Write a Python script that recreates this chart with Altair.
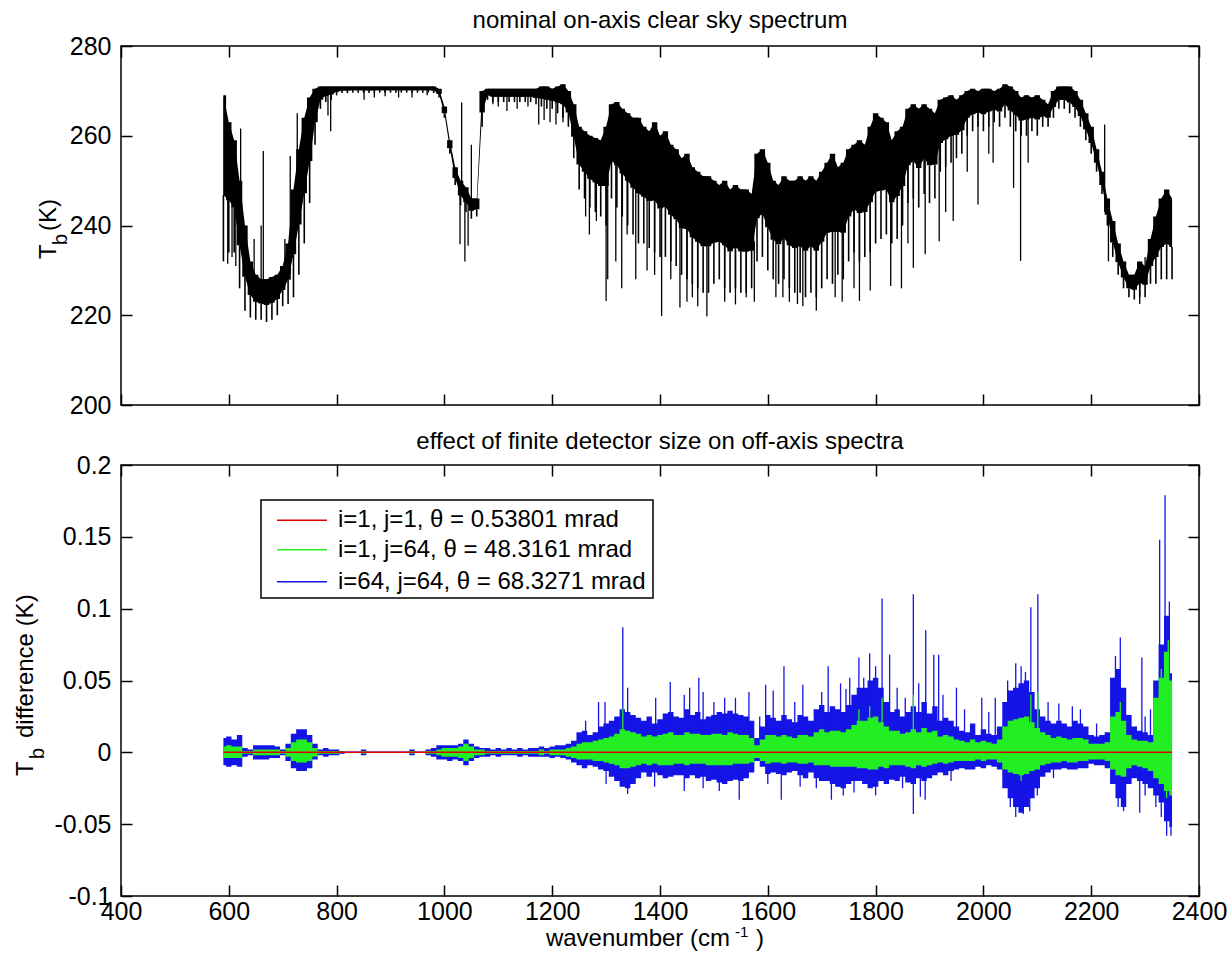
import altair as alt
import pandas as pd

FONT = "Liberation Sans"
W = 1078
H_TOP = 359
H_BOT = 431
TICK = 11

# ---------------- data ----------------
WN0, WN1, DWN = 590, 2350, 10          # sampling grid of the envelopes (cm^-1)

# top panel: upper / lower envelope of the brightness temperature (K)
top_hi = [
    269, 263, 259, 250, 240, 232, 229, 228, 228, 228.5,          # 590-680
    229, 231, 236, 248, 257, 264, 268.5, 270.5, 271, 271,        # 690-780
    271, 271, 271, 271, 271, 271, 271, 271, 271, 271,            # 790-880
    271, 271, 271, 271, 271, 271, 271, 271, 271, 271,            # 890-980
    270.5, 266.5, 259, 253, 250, 248.5, 246, 246, 270, 270.5,    # 990-1080
    270.5, 270.5, 270.5, 270.5, 270.5, 270.5, 270.5, 270.5, 270.5, 271,  # 1090-1180
    271, 270.5, 271, 271.5, 270, 267, 262, 261, 260, 259.5,      # 1190-1280
    259, 262, 267, 267.5, 266, 265, 264, 264, 262, 261,          # 1290-1380
    263, 260, 261, 258, 257, 255, 256, 253, 252, 251,            # 1390-1480
    251, 250, 249, 250, 248, 249, 248, 248, 247, 256,            # 1490-1580
    257, 254, 250, 249, 251, 250, 250, 251, 250, 251,            # 1590-1680
    250, 252, 254, 256, 253, 254, 257, 258, 259, 258,            # 1690-1780
    262, 265, 264, 263, 259, 261, 262, 266, 267, 266,            # 1790-1880
    267, 266, 265, 268, 268.5, 269, 268, 269, 270, 270.5,        # 1890-1980
    270, 270.5, 270.5, 270, 270.5, 271.5, 271, 270, 268.5, 269,  # 1990-2080
    268.5, 269, 268, 267, 270, 271, 271, 271, 270, 268,          # 2090-2180
    265, 262, 257, 252, 246, 241, 236, 232, 229, 229,            # 2190-2280
    232, 231, 237, 242, 246, 248, 246,                           # 2290-2350
]
top_lo = [
    232, 234, 234, 226, 221, 219.5, 219, 219, 218.5, 219,
    220, 222, 222.5, 224, 229, 236, 245, 258, 266, 267.5,
    268, 269, 269.5, 269.5, 269.6, 269.6, 269.6, 269.5, 269.6, 269.6,
    269.6, 269.6, 269.6, 269.6, 269.6, 269.6, 269.6, 269.6, 269.6, 269.5,
    268.5, 264, 256, 249, 244.5, 243, 241.5, 242, 262, 268,
    267.5, 267.5, 267.5, 267.5, 267.5, 267.5, 267.5, 267.5, 267, 266.5,
    266, 266, 265, 264, 262, 255, 248, 246, 244, 243,
    242, 240, 246, 244, 242, 240, 238, 236, 236, 235,
    234, 233, 233, 232, 231, 229, 228, 227, 226, 225,
    225, 227, 228, 226, 225, 226, 225, 225, 226, 232,
    233, 230, 228, 227, 228, 226, 225, 225, 224, 225,
    224, 226, 228, 227, 229, 228, 232, 234, 232, 233,
    234, 236, 237, 238, 236, 237, 240, 245, 246, 244,
    247, 245, 246, 252, 253, 254, 255, 256, 260, 261,
    262, 261, 262, 263, 262, 264, 262, 261, 260, 260,
    261, 260, 262, 262, 264, 266, 266, 265, 264, 262,
    259, 256, 252, 247, 240, 233, 229, 226, 224, 223.5,
    224, 224, 227, 227, 228, 228, 228,
]
# single absorption lines sticking out of the band: position and tip (K)
top_spike_wn = [598, 606, 613, 622, 647, 660, 664, 704, 714, 727,
                784, 789, 851, 870, 890, 915, 940, 968,
                1029, 1032, 1038, 1044, 1050,
                1090, 1100, 1116, 1135, 1155, 1175, 1185, 1196, 1207, 1220,
                1262, 1269, 1282, 1300, 1303,
                1318, 1329, 1339, 1355, 1376, 1390, 1403,
                1420, 1437, 1450, 1460, 1470, 1487,
                1520, 1540, 1560, 1575,
                1615, 1628, 1640, 1655, 1665, 1690,
                1725, 1738, 1760, 1770, 1790,
                1828, 1848, 1860, 1870, 1892,
                1918, 1930, 1944, 1970, 1990,
                2010, 2018, 2056, 2069, 2083,
                2225, 2232, 2290, 2300]
top_spike_tb = [231.5, 233, 231, 261.6, 237, 240, 256.6, 237, 255.5, 265,
                264.5, 261, 268, 268.5, 268.8, 268.5, 268.5, 269,
                235.8, 267.4, 232, 235.5, 258,
                267, 266.5, 265.5, 266, 266.5, 262.5, 263.5, 263, 262.5, 263,
                242, 238, 241, 223.2, 228,
                232, 226, 238, 228, 230, 229, 219.8,
                228, 221.7, 223, 224, 222, 219.8,
                223, 222.4, 224, 223,
                224, 224, 223, 222.5, 222, 221,
                224, 223, 226, 223.2, 225.5,
                226.5, 226, 236, 230.6, 233.6,
                236.5, 243, 241, 252, 244.7,
                256, 254, 248.4, 232.1, 254,
                262.5, 232, 222.5, 233]

# bottom panel: envelopes of the Tb differences, in mK
blue_hi = [
    10, 11, 9, 12, 3, 2, 5, 5, 5, 5,
    4, 2, 6, 13, 16, 16, 12, 6, 2, 3,
    2, 2, 1, 0.5, 0.5, 0.5, 2, 0.5, 0.5, 0.5,
    0.5, 0.5, 0.5, 0.5, 0.5, 2, 0.5, 0.5, 2, 3,
    5, 5, 5, 5, 6, 9, 6, 4, 3, 3,
    2, 3, 2, 3, 2, 3, 2, 3, 3, 4,
    3, 4, 5, 5, 6, 8, 14, 15, 12, 14,
    18, 20, 22, 25, 30, 28, 26, 24, 22, 25,
    20, 23, 27, 28, 25, 24, 30, 26, 28, 23,
    25, 26, 28, 27, 29, 27, 26, 25, 22, 10,
    18, 26, 24, 22, 26, 23, 21, 26, 25, 22,
    30, 33, 28, 32, 30, 28, 33, 40, 45, 45,
    50, 52, 45, 35, 28, 30, 25, 28, 32, 28,
    35, 27, 32, 22, 24, 22, 18, 15, 14, 20,
    12, 16, 13, 12, 18, 35, 43, 45, 48, 50,
    42, 30, 25, 22, 20, 22, 20, 18, 22, 20,
    18, 12, 11, 12, 14, 52, 58, 45, 26, 18,
    15, 14, 12, 50, 75, 95, 55,
]
blue_lo = [
    -9, -10, -9, -10, -3, -2, -5, -5, -5, -4,
    -4, -2, -6, -11, -13, -13, -11, -5, -2, -3,
    -2, -2, -1, -0.5, -0.5, -0.5, -2, -0.5, -0.5, -0.5,
    -0.5, -0.5, -0.5, -0.5, -0.5, -2, -0.5, -0.5, -2, -3,
    -5, -5, -6, -5, -6, -9, -6, -4, -3, -3,
    -2, -3, -2, -2, -2, -3, -2, -3, -3, -3,
    -3, -4, -3, -4, -5, -7, -9, -11, -9, -10,
    -12, -13, -17, -20, -24, -25, -22, -18, -14, -17,
    -14, -16, -18, -17, -16, -16, -18, -16, -18, -17,
    -20, -19, -21, -22, -20, -19, -20, -18, -14, -6,
    -10, -15, -14, -15, -16, -14, -13, -16, -18, -14,
    -18, -20, -20, -22, -24, -25, -22, -20, -20, -22,
    -25, -24, -20, -22, -19, -20, -17, -21, -22, -18,
    -20, -18, -16, -14, -16, -13, -12, -11, -12, -12,
    -10, -11, -9, -10, -12, -25, -32, -38, -42, -38,
    -32, -25, -17, -14, -12, -12, -11, -12, -12, -11,
    -11, -8, -9, -9, -11, -22, -32, -38, -22, -18,
    -20, -22, -25, -30, -35, -48, -52,
]
green_hi = [
    4, 5, 4, 4, 1, 1, 2, 2, 2, 2,
    2, 1, 3, 7, 9, 9, 7, 3, 1, 1,
    1, 1, 0.5, 0.3, 0.3, 0.3, 1, 0.3, 0.3, 0.3,
    0.3, 0.3, 0.3, 0.3, 0.3, 1, 0.3, 0.3, 1, 1,
    2, 3, 3, 3, 4, 6, 4, 2, 2, 1,
    1, 1, 1, 1, 1, 1, 1, 1, 1, 2,
    1, 2, 2, 2, 3, 4, 6, 7, 7, 8,
    9, 10, 11, 13, 16, 15, 14, 13, 11, 12,
    11, 12, 13, 14, 12, 12, 14, 13, 13, 12,
    12, 13, 13, 12, 14, 13, 12, 12, 10, 5,
    9, 12, 12, 11, 12, 11, 10, 12, 12, 11,
    14, 16, 14, 15, 15, 14, 16, 19, 22, 22,
    24, 25, 21, 18, 15, 15, 13, 14, 16, 14,
    17, 14, 15, 11, 12, 11, 9, 8, 7, 9,
    7, 8, 7, 6, 9, 18, 22, 23, 24, 25,
    21, 17, 14, 12, 10, 11, 10, 9, 10, 10,
    9, 6, 6, 6, 7, 25, 28, 22, 12, 9,
    8, 8, 7, 38, 52, 70, 50,
]
green_lo = [
    -4, -4, -4, -4, -1, -1, -2, -2, -2, -2,
    -2, -1, -3, -6, -7, -7, -6, -3, -1, -1,
    -1, -1, -0.5, -0.3, -0.3, -0.3, -1, -0.3, -0.3, -0.3,
    -0.3, -0.3, -0.3, -0.3, -0.3, -1, -0.3, -0.3, -1, -1,
    -2, -3, -3, -3, -4, -6, -4, -2, -2, -1,
    -1, -1, -1, -1, -1, -1, -1, -1, -1, -2,
    -1, -2, -2, -2, -3, -4, -5, -5, -5, -6,
    -6, -7, -8, -9, -11, -11, -10, -9, -8, -9,
    -8, -9, -9, -9, -8, -8, -9, -8, -8, -8,
    -9, -9, -9, -9, -9, -8, -8, -8, -7, -4,
    -6, -8, -7, -7, -8, -7, -7, -8, -8, -7,
    -9, -9, -9, -10, -10, -10, -10, -10, -11, -11,
    -12, -12, -10, -11, -9, -9, -9, -10, -11, -9,
    -10, -9, -8, -7, -8, -7, -6, -6, -6, -6,
    -5, -6, -5, -5, -7, -12, -14, -15, -16, -15,
    -13, -12, -9, -8, -7, -7, -6, -7, -7, -6,
    -6, -5, -5, -5, -6, -12, -16, -17, -11, -9,
    -10, -11, -13, -18, -22, -27, -30,
]
# isolated lines of the i=64, j=64 curve (mK)
blue_spike_wn = [1331, 1340, 1298, 1419, 1445, 1455, 1472, 1565, 1596, 1610,
                 1630, 1665, 1712, 1752, 1769, 1789, 1812, 1826, 1870, 1893,
                 1908, 1917, 1950, 1997, 2022, 2078, 2088, 2101, 2165, 2245,
                 2254, 2294, 2327, 2337, 2345,
                 1262, 1286, 1392, 1480, 1500, 1520, 1540, 1585, 1650, 1700,
                 1735, 1745, 1778, 1800, 1840, 1855, 1880, 1925, 1965, 2010,
                 2045, 2060, 2070, 2120, 2140, 2180, 2210, 2300, 2310,
                 1340, 1445, 1547, 1625, 1718, 1870, 1883, 1892, 2060, 2074,
                 2086, 2260, 2290, 2340, 2348,
                 1300, 1390, 1480, 1510, 1600, 1660, 1690, 1740, 1760, 1800,
                 1850, 1940, 2050, 2100, 2130, 2250, 2300, 2320, 2330]
blue_spike_mk = [87, 45, 35, 49, 40, 45, 52, 42, 47, 43,
                 60, 47, 60, 52, 66, 69, 107, 68, 110, 85,
                 68, 68, 45, 38, 38, 56, 101, 110, 32, 67,
                 80, 66, 148, 179, 105,
                 22, 35, 38, 42, 35, 38, 38, 25, 35, 42,
                 48, 44, 52, 60, 45, 38, 48, 40, 30, 28,
                 50, 62, 60, 35, 34, 30, 20, 25, 30,
                 -29, -27, -33, -33, -33, -43, -31, -33, -45, -43,
                 -41, -41, -42, -58, -58,
                 -22, -24, -25, -27, -22, -24, -25, -30, -28, -30,
                 -25, -20, -38, -30, -18, -38, -30, -38, -45]
green_spike_wn = [1331, 1769, 1789, 1812, 1870, 2088, 2101, 2254, 2330, 2343, 2340, 2070]
green_spike_mk = [30, 30, 32, 38, 40, 40, 42, 35, 58, 78, -32, -20]
red_wn = [590, 2350]
red_mk = [0, 0]

legend_labels = ["i=1, j=1, \u03b8 = 0.53801 mrad",
                 "i=1, j=64, \u03b8 = 48.3161 mrad",
                 "i=64, j=64, \u03b8 = 68.3271 mrad"]
series_colors = ["#e00000", "#22ee22", "#1414e6"]

x_ticks = [400, 600, 800, 1000, 1200, 1400, 1600, 1800, 2000, 2200, 2400]
top_y_ticks = [200, 220, 240, 260, 280]
bot_y_ticks = [-0.1, -0.05, 0, 0.05, 0.1, 0.15, 0.2]

# ---------------- tables ----------------
wn = list(range(WN0, WN1 + 1, DWN))
CORE = 0.6   # share of the envelope drawn as a solid band; the rest is hatched by lines
top_df = pd.DataFrame({"wn": wn, "hi": top_hi, "lo": top_lo})
top_df["core"] = top_df["hi"] - CORE * (top_df["hi"] - top_df["lo"])


def nearest_mid(w):
    i = int(round((w - WN0) / DWN))
    i = max(0, min(len(wn) - 1, i))
    return (top_hi[i] + top_lo[i]) / 2.0


top_spk = pd.DataFrame({"wn": top_spike_wn, "tip": top_spike_tb,
                        "base": [nearest_mid(w) for w in top_spike_wn]})

bot_df = pd.DataFrame({
    "wn": wn,
    "bh": [v / 1000.0 for v in blue_hi], "bl": [v / 1000.0 for v in blue_lo],
    "gh": [v / 1000.0 for v in green_hi], "gl": [v / 1000.0 for v in green_lo],
})
blue_spk = pd.DataFrame({"wn": blue_spike_wn, "tip": [v / 1000.0 for v in blue_spike_mk],
                         "base": [0.0] * len(blue_spike_wn)})
green_spk = pd.DataFrame({"wn": green_spike_wn, "tip": [v / 1000.0 for v in green_spike_mk],
                          "base": [0.0] * len(green_spike_wn)})
red_df = pd.DataFrame({"wn": red_wn, "v": [v / 1000.0 for v in red_mk]})
one = pd.DataFrame({"k": [0]})

# ---------------- helpers ----------------
xs = alt.Scale(domain=[400, 2400], nice=False, zero=False)
ys_top = alt.Scale(domain=[200, 280], nice=False, zero=False)
ys_bot = alt.Scale(domain=[-0.1, 0.2], nice=False, zero=False)


def axis(orient, values, labels=True, fmt=None, expr=None, pad=10):
    kw = dict(orient=orient, values=values, title=None, grid=False, domain=False,
              ticks=True, tickSize=TICK, tickWidth=1.5, tickColor="black",
              offset=-TICK, labels=labels, labelFont=FONT, labelFontSize=25,
              labelColor="black", labelPadding=pad, labelFlush=False,
              labelOverlap=False, minExtent=0)
    if fmt:
        kw["format"] = fmt
    if expr:
        kw["labelExpr"] = expr
    return alt.Axis(**kw)


def label(text, x, y, size=24, angle=0, align="left", dx=0, dy=0, baseline="alphabetic"):
    kw = dict(text=text, font=FONT, fontSize=size, color="black", align=align,
              baseline=baseline)
    if angle:
        kw["angle"] = angle
    if dx:
        kw["dx"] = dx
    if dy:
        kw["dy"] = dy
    return alt.Chart(one).mark_text(**kw).encode(x=alt.value(x), y=alt.value(y))


# invisible corner that pins the page origin 120 px left of / 45 px above the top plot
corner = alt.Chart(one).mark_rect(opacity=0).encode(
    x=alt.value(-120), x2=alt.value(-119), y=alt.value(-45), y2=alt.value(-44))

# ---------------- top panel ----------------
top_band = alt.Chart(top_df).mark_area(interpolate="linear", color="black").encode(
    x=alt.X("wn:Q", scale=xs, axis=axis("bottom", x_ticks, labels=False)),
    y=alt.Y("core:Q", scale=ys_top, axis=axis("left", top_y_ticks, fmt="d")),
    y2="hi:Q",
)
top_band_steps = alt.Chart(top_df).mark_area(interpolate="step", color="black").encode(
    x=alt.X("wn:Q", scale=xs, axis=None),
    y=alt.Y("core:Q", scale=ys_top, axis=None),
    y2="hi:Q",
)
top_hatch = alt.Chart(top_df).mark_rule(color="black", strokeWidth=1.6).encode(
    x=alt.X("wn:Q", scale=xs, axis=axis("top", x_ticks, labels=False)),
    y=alt.Y("lo:Q", scale=ys_top, axis=axis("right", top_y_ticks, labels=False)),
    y2="core:Q",
)
top_lines = alt.Chart(top_spk).mark_rule(color="black", strokeWidth=1.3).encode(
    x=alt.X("wn:Q", scale=xs, axis=None),
    y=alt.Y("tip:Q", scale=ys_top, axis=None),
    y2="base:Q",
)
top = alt.layer(
    corner, top_band, top_band_steps, top_hatch, top_lines,
    label("nominal on-axis clear sky spectrum", W / 2, -18.5, size=24, align="center"),
    label("T", -65.5, 213, angle=270),
    label("b", -65.5, 213, size=20, angle=270, dx=14, dy=11),
    label("(K)", -65.5, 213, angle=270, dx=28),
).properties(width=W, height=H_TOP).resolve_axis(x="independent", y="independent")

# ---------------- bottom panel ----------------
neg_expr = "datum.value < 0 ? '-' + format(-datum.value, '~g') : format(datum.value, '~g')"
blue_band = alt.Chart(bot_df).mark_area(interpolate="step", color=series_colors[2]).encode(
    x=alt.X("wn:Q", scale=xs, axis=axis("bottom", x_ticks, fmt="d", pad=3)),
    y=alt.Y("bl:Q", scale=ys_bot, axis=axis("left", bot_y_ticks, expr=neg_expr)),
    y2="bh:Q",
)
blue_lines = alt.Chart(blue_spk).mark_rule(color=series_colors[2], strokeWidth=1.3).encode(
    x=alt.X("wn:Q", scale=xs, axis=None),
    y=alt.Y("tip:Q", scale=ys_bot, axis=None),
    y2="base:Q",
)
green_band = alt.Chart(bot_df).mark_area(interpolate="step", color=series_colors[1]).encode(
    x=alt.X("wn:Q", scale=xs, axis=axis("top", x_ticks, labels=False)),
    y=alt.Y("gl:Q", scale=ys_bot, axis=axis("right", bot_y_ticks, labels=False)),
    y2="gh:Q",
)
green_lines = alt.Chart(green_spk).mark_rule(color=series_colors[1], strokeWidth=1.3).encode(
    x=alt.X("wn:Q", scale=xs, axis=None),
    y=alt.Y("tip:Q", scale=ys_bot, axis=None),
    y2="base:Q",
)
red_line = alt.Chart(red_df).mark_line(color=series_colors[0], strokeWidth=1.5).encode(
    x=alt.X("wn:Q", scale=xs, axis=None),
    y=alt.Y("v:Q", scale=ys_bot, axis=None),
)

legend_box = alt.Chart(one).mark_rect(fill="white", stroke="black", strokeWidth=1.5).encode(
    x=alt.value(140), x2=alt.value(532), y=alt.value(35), y2=alt.value(133))
legend_layers = [legend_box]
for lab, col, ry in zip(legend_labels, series_colors, [55.3, 84.8, 116.7]):
    legend_layers.append(
        alt.Chart(one).mark_rule(color=col, strokeWidth=1.5).encode(
            x=alt.value(156), x2=alt.value(206), y=alt.value(ry)))
    legend_layers.append(label(lab, 217, ry, size=24, baseline="middle"))

bottom = alt.layer(
    blue_band, blue_lines, green_band, green_lines, red_line,
    *legend_layers,
    label("effect of finite detector size on off-axis spectra", W / 2, -16, size=24,
          align="center"),
    label("T", -88, 311, angle=270),
    label("b", -88, 311, size=20, angle=270, dx=17, dy=11),
    label("difference (K)", -88, 311, angle=270, dx=38),
    label("wavenumber (cm", 609, 481, align="right"),
    label("-1", 614, 472, size=15),
    label(")", 635, 481),
).properties(width=W, height=H_BOT).resolve_axis(x="independent", y="independent")

chart = alt.vconcat(top, bottom, spacing=60, bounds="flush").properties(
    padding={"left": 0, "top": 0, "right": 0, "bottom": 8},
    background="white",
).configure_view(stroke="black", strokeWidth=1.5)

chart.save("out.html", embed_options={"renderer": "svg", "actions": False})
